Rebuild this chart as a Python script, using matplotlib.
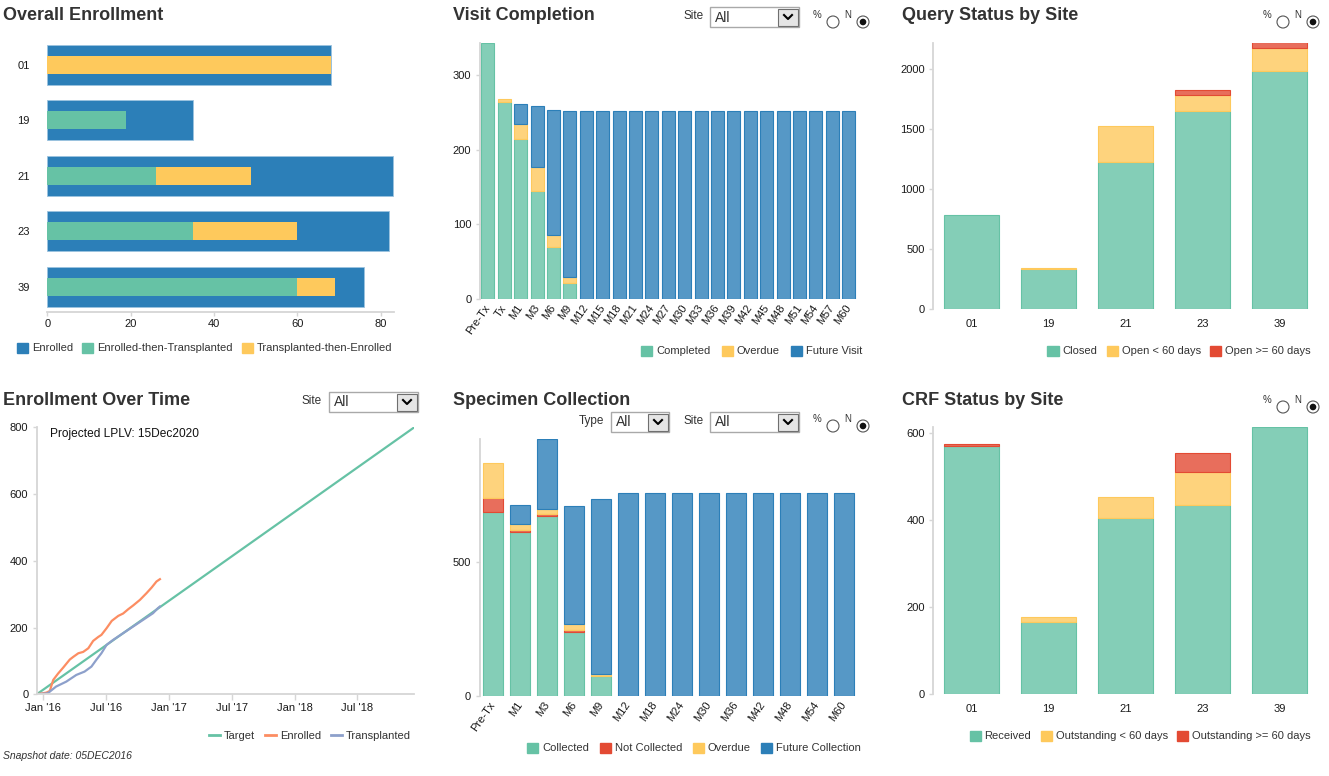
import numpy as np
import pandas as pd
import matplotlib
matplotlib.use('Agg')
import matplotlib.pyplot as plt
from matplotlib.colors import to_rgba
from matplotlib.patches import Patch, Rectangle, Circle
from matplotlib.lines import Line2D

plt.rcParams['font.family'] = ['Liberation Sans', 'DejaVu Sans']

W, H = 1329, 776

# ---- data ----
sites = ['01', '19', '21', '23', '39']

# Overall Enrollment
enr_total = [68, 35, 83, 82, 76]
enr_then_tx = [0, 19, 26, 35, 60]
tx_then_enr = [68, 0, 23, 25, 9]

# Visit Completion
visits = ['Pre-Tx', 'Tx', 'M1', 'M3', 'M6', 'M9', 'M12', 'M15', 'M18', 'M21', 'M24', 'M27',
          'M30', 'M33', 'M36', 'M39', 'M42', 'M45', 'M48', 'M51', 'M54', 'M57', 'M60']
visit_completed = [343, 263, 214, 145, 70, 21, 0, 0, 0, 0, 0, 0, 0, 0, 0, 0, 0, 0, 0, 0, 0, 0, 0]
visit_overdue = [0, 5, 20, 31, 16, 8, 0, 0, 0, 0, 0, 0, 0, 0, 0, 0, 0, 0, 0, 0, 0, 0, 0]
visit_future = [0, 0, 27, 82, 167, 223, 252, 252, 252, 252, 252, 252, 252, 252, 252, 252, 252,
                252, 252, 252, 252, 252, 252]

# Query Status by Site
query_closed = [783, 332, 1222, 1650, 1983]
query_open_lt60 = [0, 8, 306, 133, 195]
query_open_ge60 = [0, 0, 0, 42, 44]

# Enrollment Over Time
target_dates = ['2015-12-13', '2018-12-14']
target_vals = [0, 800]
enrolled_dates = ['2015-12-13', '2016-01-10', '2016-01-20', '2016-01-30', '2016-02-13', '2016-02-28',
                  '2016-03-18', '2016-03-28', '2016-04-12', '2016-04-26', '2016-05-11', '2016-05-25',
                  '2016-06-09', '2016-06-18', '2016-07-03', '2016-07-18', '2016-08-06', '2016-08-20',
                  '2016-09-04', '2016-09-18', '2016-10-08', '2016-10-27', '2016-11-11', '2016-11-25',
                  '2016-12-05']
enrolled_vals = [0, 5, 10, 43, 62, 80, 104, 112, 123, 127, 138, 160, 172, 178, 198, 220, 235, 242,
                 255, 266, 283, 303, 320, 338, 345]
transplanted_dates = ['2015-12-13', '2016-01-14', '2016-02-07', '2016-03-08', '2016-04-06', '2016-04-30',
                      '2016-05-20', '2016-06-03', '2016-06-18', '2016-07-03', '2016-07-22', '2016-08-20',
                      '2016-09-18', '2016-10-17', '2016-11-15', '2016-11-29', '2016-12-05']
transplanted_vals = [0, 3, 23, 38, 58, 68, 83, 103, 123, 148, 163, 183, 203, 223, 243, 258, 263]
time_ticks = ['2016-01-01', '2016-07-01', '2017-01-01', '2017-07-01', '2018-01-01', '2018-07-01']
time_labels = ["Jan '16", "Jul '16", "Jan '17", "Jul '17", "Jan '18", "Jul '18"]

# Specimen Collection
spec_visits = ['Pre-Tx', 'M1', 'M3', 'M6', 'M9', 'M12', 'M18', 'M24', 'M30', 'M36', 'M42', 'M48', 'M54', 'M60']
spec_collected = [685, 612, 673, 238, 76, 0, 0, 0, 0, 0, 0, 0, 0, 0]
spec_not_collected = [55, 7, 8, 7, 0, 0, 0, 0, 0, 0, 0, 0, 0, 0]
spec_overdue = [128, 24, 17, 24, 7, 0, 0, 0, 0, 0, 0, 0, 0, 0]
spec_future = [0, 70, 260, 440, 652, 756, 756, 756, 756, 756, 756, 756, 756, 756]

# CRF Status by Site
crf_received = [570, 166, 404, 433, 612]
crf_out_lt60 = [0, 11, 49, 76, 0]
crf_out_ge60 = [4, 0, 0, 45, 0]

GREEN, YELLOW, BLUE, RED = '#66c2a5', '#fec95c', '#2c7fb8', '#e34a33'
ORANGE, PURPLE = '#fc8d62', '#8da0cb'
AXIS, TXT = '#d6d6d6', '#333333'

fig = plt.figure(figsize=(W / 100, H / 100), dpi=100)


def px_axes(l, t, r, b):
    return fig.add_axes([l / W, 1 - b / H, (r - l) / W, (b - t) / H])


def ftext(x, y, s, **kw):
    fig.text(x / W, 1 - y / H, s, **kw)


def style(ax, left=True, bottom=False):
    for s in ['top', 'right']:
        ax.spines[s].set_visible(False)
    ax.spines['left'].set_visible(left)
    ax.spines['bottom'].set_visible(bottom)
    for s in ['left', 'bottom']:
        ax.spines[s].set_color(AXIS)
        ax.spines[s].set_linewidth(1.3)
    ax.tick_params(colors=AXIS, labelcolor='#1a1a1a', labelsize=8, length=3, width=1, pad=3)


def columns(ax, n, series, colors, width):
    x = np.arange(n)
    bottom = np.zeros(n)
    for vals, c in zip(series, colors):
        vals = np.array(vals, float)
        m = vals > 0
        ax.bar(x[m], vals[m], width, bottom=bottom[m], color=to_rgba(c, 0.8),
               edgecolor=c, linewidth=0.8)
        bottom += vals
    ax.set_xlim(-0.5, n - 0.5)


def legend(ax, labels, colors, right, y, lines=False, colsp=1.3):
    if lines:
        handles = [Line2D([], [], color=c, lw=2) for c in colors]
    else:
        handles = [Patch(facecolor=c, edgecolor=c) for c in colors]
    ax.legend(handles, labels, ncol=len(labels), loc='center right',
              bbox_to_anchor=(right / W, 1 - y / H), bbox_transform=fig.transFigure,
              frameon=False, fontsize=8, handlelength=1.0, handleheight=1.0,
              handletextpad=0.35, columnspacing=colsp, borderpad=0, borderaxespad=0,
              labelcolor=TXT)


title_kw = dict(fontsize=13, fontweight='bold', color=TXT, va='center', ha='left')

# ---- Overall Enrollment ----
ax1 = px_axes(47.3, 37.05, 394, 312.3)
y = np.arange(len(sites))
ax1.barh(y, enr_total, 0.72, color=BLUE, edgecolor='#9cc3df', linewidth=0.6)
ax1.barh(y, enr_then_tx, 0.32, color=GREEN)
ax1.barh(y, tx_then_enr, 0.32, left=enr_then_tx, color=YELLOW)
ax1.set_xlim(0, 83.2)
ax1.set_ylim(4.46, -0.5)
ax1.set_yticks(y, sites)
ax1.set_xticks([0, 20, 40, 60, 80])
style(ax1, left=False, bottom=True)
ax1.tick_params(axis='y', length=0, pad=12.5)
ax1.tick_params(axis='x', pad=2)
ftext(3, 16, 'Overall Enrollment', **title_kw)
legend(ax1, ['Enrolled', 'Enrolled-then-Transplanted', 'Transplanted-then-Enrolled'],
       [BLUE, GREEN, YELLOW], 392, 348, colsp=0.8)

# ---- Visit Completion ----
ax2 = px_axes(479.6, 42.7, 857, 299)
columns(ax2, len(visits), [visit_completed, visit_overdue, visit_future], [GREEN, YELLOW, BLUE], 0.79)
ax2.set_ylim(0, 343)
ax2.set_yticks([0, 100, 200, 300])
ax2.set_xticks(np.arange(len(visits)))
ax2.set_xticklabels(visits, rotation=55, ha='right', va='center', rotation_mode='anchor')
style(ax2)
ax2.tick_params(axis='x', length=0, pad=5)
ftext(452.7, 16, 'Visit Completion', **title_kw)
legend(ax2, ['Completed', 'Overdue', 'Future Visit'], [GREEN, YELLOW, BLUE], 862, 351, colsp=1.0)

# ---- Query Status by Site ----
ax3 = px_axes(933.2, 42.7, 1318, 309)
columns(ax3, len(sites), [query_closed, query_open_lt60, query_open_ge60], [GREEN, YELLOW, RED], 0.71)
ax3.set_ylim(0, 2219)
ax3.set_yticks([0, 500, 1000, 1500, 2000])
ax3.set_xticks(np.arange(len(sites)), sites)
style(ax3)
ax3.tick_params(axis='x', length=0, pad=7)
ftext(902, 16, 'Query Status by Site', **title_kw)
legend(ax3, ['Closed', 'Open < 60 days', 'Open >= 60 days'], [GREEN, YELLOW, RED], 1311, 351, colsp=0.85)

# ---- Enrollment Over Time ----
ax4 = px_axes(36.7, 427.3, 414.3, 694.3)
ax4.plot(pd.to_datetime(target_dates), target_vals, color=GREEN, lw=1.6)
ax4.plot(pd.to_datetime(enrolled_dates), enrolled_vals, color=ORANGE, lw=1.6)
ax4.plot(pd.to_datetime(transplanted_dates), transplanted_vals, color=PURPLE, lw=1.6)
ax4.set_xlim(pd.Timestamp('2015-12-13'), pd.Timestamp('2018-12-14'))
ax4.set_ylim(0, 800)
ax4.set_yticks([0, 200, 400, 600, 800])
ax4.set_xticks(pd.to_datetime(time_ticks), time_labels)
style(ax4, left=True, bottom=True)
ax4.tick_params(axis='x', length=4, pad=2)
ax4.text(0.035, 0.975, 'Projected LPLV: 15Dec2020', transform=ax4.transAxes, fontsize=8.6,
         color='#111111', va='center', ha='left')
ftext(3, 400.7, 'Enrollment Over Time', **title_kw)
legend(ax4, ['Target', 'Enrolled', 'Transplanted'], [GREEN, ORANGE, PURPLE], 411, 736, lines=True, colsp=0.9)
ftext(3, 756, 'Snapshot date: 05DEC2016', fontsize=7.5, style='italic', color=TXT, va='center')

# ---- Specimen Collection ----
ax5 = px_axes(479.5, 439.3, 857.5, 696)
columns(ax5, len(spec_visits), [spec_collected, spec_not_collected, spec_overdue, spec_future],
        [GREEN, RED, YELLOW, BLUE], 0.74)
ax5.set_ylim(0, 958)
ax5.set_yticks([0, 500])
ax5.set_xticks(np.arange(len(spec_visits)))
ax5.set_xticklabels(spec_visits, rotation=55, ha='right', va='center', rotation_mode='anchor')
style(ax5)
ax5.tick_params(axis='x', length=0, pad=5)
ftext(452.7, 400.7, 'Specimen Collection', **title_kw)
legend(ax5, ['Collected', 'Not Collected', 'Overdue', 'Future Collection'],
       [GREEN, RED, YELLOW, BLUE], 861, 748, colsp=0.95)

# ---- CRF Status by Site ----
ax6 = px_axes(933.2, 427.3, 1318, 694.3)
columns(ax6, len(sites), [crf_received, crf_out_lt60, crf_out_ge60], [GREEN, YELLOW, RED], 0.71)
ax6.set_ylim(0, 612)
ax6.set_yticks([0, 200, 400, 600])
ax6.set_xticks(np.arange(len(sites)), sites)
style(ax6)
ax6.tick_params(axis='x', length=0, pad=7)
ftext(902, 400.7, 'CRF Status by Site', **title_kw)
legend(ax6, ['Received', 'Outstanding < 60 days', 'Outstanding >= 60 days'],
       [GREEN, YELLOW, RED], 1311, 736, colsp=0.85)

# ---- form controls (decoration) ----
ui = fig.add_axes([0, 0, 1, 1])
ui.set_xlim(0, W)
ui.set_ylim(H, 0)
ui.axis('off')
ui.patch.set_alpha(0)


def dropdown(label, lx, x0, y0, x1, y1):
    cy = (y0 + y1) / 2
    ui.text(lx, cy - 1, label, fontsize=8.5, color=TXT, va='center', ha='left')
    ui.add_patch(Rectangle((x0, y0), x1 - x0, y1 - y0, fc='white', ec='#a9a9a9', lw=1))
    ui.add_patch(Rectangle((x1 - 21, y0 + 1.5), 20, y1 - y0 - 3, fc='#e5e5e5', ec='#6f6f6f', lw=0.8))
    ui.text(x0 + 5, cy + 0.5, 'All', fontsize=10, color=TXT, va='center', ha='left')
    cx = x1 - 11
    ui.plot([cx - 4, cx, cx + 4], [cy - 2, cy + 2, cy - 2], color='black', lw=1.5)


def radios(x, cy):
    ui.text(x, cy - 7, '%', fontsize=7, color=TXT, va='center', ha='left')
    ui.add_patch(Circle((x + 20, cy), 6, fc='white', ec='#555555', lw=0.8))
    ui.text(x + 31, cy - 7, 'N', fontsize=7, color=TXT, va='center', ha='left')
    ui.add_patch(Circle((x + 50, cy), 6, fc='white', ec='#555555', lw=0.8))
    ui.add_patch(Circle((x + 50, cy), 3.3, fc='#111111', ec='none'))


dropdown('Site', 683, 710, 7, 799, 27)
radios(813, 22)
radios(1263, 22)
dropdown('Site', 302, 329, 392, 418, 412)
dropdown('Type', 579, 611, 412, 669, 432)
dropdown('Site', 683, 710, 412, 799, 432)
radios(813, 426)
radios(1263, 407)

fig.savefig('out.png', dpi=100)
